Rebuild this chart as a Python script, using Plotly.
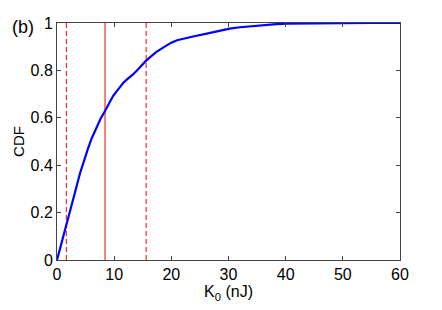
import plotly.graph_objects as go

# CDF curve
k0 = [0, 0.8, 1.6, 2.5, 3.2, 4.0, 4.7, 5.4, 6.1, 6.9, 7.6, 8.4, 9.1, 9.8, 10.7, 11.6,
      12.4, 13.3, 14.4, 15.5, 16.5, 17.4, 18.7, 20.0, 21.0, 22.1, 24.0, 26.2, 28.2,
      30.2, 32.0, 33.7, 36.0, 38.4, 40.2, 43, 46, 50, 55, 60]
cdf = [0, 0.07, 0.145, 0.224, 0.29, 0.364, 0.42, 0.469, 0.515, 0.559, 0.595, 0.629,
       0.662, 0.692, 0.72, 0.748, 0.765, 0.783, 0.81, 0.839, 0.86, 0.878, 0.898, 0.917,
       0.927, 0.934, 0.944, 0.955, 0.966, 0.976, 0.982, 0.986, 0.991, 0.995, 0.997,
       0.998, 0.999, 1.0, 1.0, 1.0]

# vertical reference lines
median_k0 = 8.4
bound_k0 = [1.64, 15.6]

x_ticks = [0, 10, 20, 30, 40, 50, 60]
y_ticks = [0, 0.2, 0.4, 0.6, 0.8, 1]

fig = go.Figure()
for b in bound_k0:
    fig.add_trace(go.Scatter(x=[b, b], y=[0, 1], mode="lines",
                             line=dict(color="#ff2a2a", width=1.2, dash="5px,3px"),
                             showlegend=False, hoverinfo="skip"))
fig.add_trace(go.Scatter(x=[median_k0, median_k0], y=[0, 1], mode="lines",
                         line=dict(color="#ff2a2a", width=1.2),
                         showlegend=False, hoverinfo="skip"))
fig.add_trace(go.Scatter(x=k0, y=cdf, mode="lines",
                         line=dict(color="#0000ff", width=2.2),
                         showlegend=False))

axis_common = dict(showgrid=False, zeroline=False, showline=True, linecolor="#444",
                   linewidth=1, mirror="ticks", ticks="inside", ticklen=4,
                   tickcolor="#444", tickfont=dict(size=16, color="black"),
                   automargin=False)

fig.update_layout(
    width=442, height=310, autosize=False,
    margin=dict(l=57, r=42, t=23, b=50, pad=0),
    paper_bgcolor="white", plot_bgcolor="white",
    font=dict(family="Liberation Sans, Arial, sans-serif", color="black"),
    xaxis=dict(range=[0, 60], tickvals=x_ticks,
               title=dict(text="K<sub>0</sub> (nJ)", font=dict(size=16), standoff=0),
               **axis_common),
    yaxis=dict(range=[0, 1], tickvals=y_ticks,
               title=dict(text="CDF", font=dict(size=15), standoff=2),
               **axis_common),
    annotations=[dict(text="(b)", x=-0.137, y=0.983, xref="paper", yref="paper",
                      xanchor="left", yanchor="middle", showarrow=False,
                      font=dict(size=18, color="black"))],
)

fig.write_html("out.html", config={"displayModeBar": False},
               post_script="document.body.style.margin='0';document.body.style.overflow='hidden';")
